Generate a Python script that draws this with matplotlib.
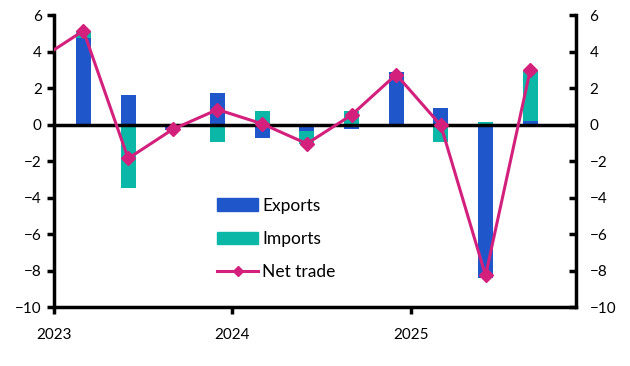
import matplotlib
matplotlib.use("Agg")
import matplotlib.pyplot as plt
from matplotlib.lines import Line2D
from matplotlib.patches import Patch

plt.rcParams['font.family'] = ['Lato', 'DejaVu Sans']

# quarterly data, 2023 Q1 .. 2025 Q3 (percentage points)
quarters = ["2023Q1", "2023Q2", "2023Q3", "2023Q4", "2024Q1", "2024Q2",
            "2024Q3", "2024Q4", "2025Q1", "2025Q2", "2025Q3"]
exports = [4.75, 1.62, -0.30, 1.73, -0.72, -0.36, -0.23, 2.90, 0.90, -8.40, 0.19]
imports = [0.38, -3.46, 0.05, -0.94, 0.74, -0.68, 0.74, -0.16, -0.94, 0.12, 2.80]
# net trade includes 2022 Q4, which is cut off by the left axis
net_quarters = ["2022Q4"] + quarters
net_trade = [3.55, 5.14, -1.86, -0.26, 0.82, 0.04, -1.05, 0.52, 2.74, -0.05, -8.27, 2.99]

year_ticks = [2023, 2024, 2025]
y_ticks = list(range(-10, 7, 2))

BLUE = "#1F57CB"
TEAL = "#0BB8A7"
PINK = "#D3207D"


def qpos(q):
    # bars sit two months into each quarter
    year = int(q[:4])
    n = int(q[-1])
    return year + (n - 1) * 0.25 + 1 / 6


x = [qpos(q) for q in quarters]
xn = [qpos(q) for q in net_quarters]

fig = plt.figure(figsize=(6.3, 3.66), dpi=100)
ax = fig.add_axes([0.0852, 0.161, 0.8283, 0.798])

w = 0.085
# stack: positive parts up from zero, negative parts down from zero
pos_base = [0.0] * len(x)
neg_base = [0.0] * len(x)
for vals, color in [(exports, BLUE), (imports, TEAL)]:
    bottoms = []
    for i, v in enumerate(vals):
        if v >= 0:
            bottoms.append(pos_base[i])
            pos_base[i] += v
        else:
            bottoms.append(neg_base[i])
            neg_base[i] += v
    ax.bar(x, vals, width=w, bottom=bottoms, color=color, zorder=2)

ax.axhline(0, color="black", lw=2.5, zorder=3)
ax.plot(xn, net_trade, color=PINK, lw=2.2, marker="D", ms=7, zorder=4, clip_on=True)

ax.set_xlim(2023, 2025.92)
ax.set_ylim(-10, 6)
ax.set_xticks(year_ticks)
ax.set_xticklabels([str(y) for y in year_ticks])
ax.set_yticks(y_ticks)

for s in ["left", "right", "bottom"]:
    ax.spines[s].set_linewidth(2.5)
ax.spines["top"].set_visible(False)

ax.tick_params(axis="x", length=5, width=2.5, pad=10, labelsize=11)
ax.tick_params(axis="y", length=5, width=2.5, labelsize=11, left=True, right=False)

ax2 = ax.twinx()
ax2.set_ylim(-10, 6)
ax2.set_yticks(y_ticks)
ax2.tick_params(axis="y", direction="in", length=5, width=2.5, labelsize=11, pad=10)
for s in ["left", "right", "bottom", "top"]:
    ax2.spines[s].set_visible(False)

handles = [Patch(color=BLUE, label="Exports"),
           Patch(color=TEAL, label="Imports"),
           Line2D([], [], color=PINK, lw=2.2, marker="D", ms=5, label="Net trade")]
fig.legend(handles=handles, loc="upper left", bbox_to_anchor=(0.345, 0.46),
           bbox_transform=fig.transFigure,
           frameon=False, fontsize=12.5, handlelength=2.35, handleheight=0.7,
           labelspacing=1.0, handletextpad=0.25, borderaxespad=0, borderpad=0)

fig.savefig("out.png", dpi=100)
